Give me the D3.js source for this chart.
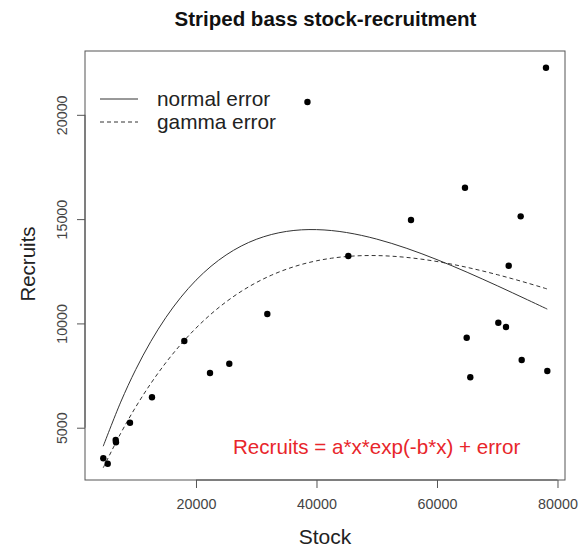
<!DOCTYPE html>
<html><head><meta charset="utf-8">
<script src="https://cdn.jsdelivr.net/npm/d3@7"></script>
<style>body{margin:0;background:#fff;} svg{display:block;}</style>
</head><body>
<svg id="c" width="579" height="548"></svg>
<script>
// Data
const stock = [4614, 5344, 6672, 6722, 9046, 12697, 18058, 22324, 25527, 31834, 38500, 45278, 55685, 64647, 64929, 65528, 70178, 71452, 73888, 74058, 71900, 78091, 78307];
const recruits = [3533, 3274, 4410, 4300, 5240, 6457, 9156, 7622, 8068, 10451, 20614, 13231, 14957, 16505, 9315, 7416, 10034, 9828, 15134, 8245, 12766, 22258, 7718];
const curveStock = [4600,7500,10000,12500,15000,17500,20000,22500,25000,27500,30000,32500,35000,37500,40000,42500,45000,47500,50000,52500,55000,57500,60000,62500,65000,67500,70000,72500,75000,77500,78300];
const normalFit = [4112,6226,7789,9134,10284,11257,12071,12741,13282,13708,14031,14261,14410,14486,14497,14452,14357,14218,14042,13834,13597,13337,13058,12762,12453,12133,11806,11472,11135,10795,10686];
const gammaFit = [3078,4730,5994,7120,8119,9001,9775,10450,11034,11534,11957,12309,12597,12826,13001,13126,13207,13248,13252,13222,13163,13077,12968,12836,12686,12519,12337,12142,11937,11721,11650];
const xTicks = [20000, 40000, 60000, 80000];
const yTicks = [5000, 10000, 15000, 20000];
const legendLabels = ["normal error", "gamma error"];
const titleText = "Striped bass stock-recruitment";
const formulaText = "Recruits = a*x*exp(-b*x) + error";

const svg = d3.select("#c");
const font = "'Liberation Sans', Arial, sans-serif";
const L = 85, R = 565, T = 51, B = 480;
const x = d3.scaleLinear().domain([1577, 81245]).range([L, R]);
const y = d3.scaleLinear().domain([2493, 23060]).range([B, T]);

// box
svg.append("rect").attr("x", L).attr("y", T).attr("width", R - L).attr("height", B - T)
  .attr("fill", "none").attr("stroke", "#555").attr("stroke-width", 1);

// axes
const xAxis = svg.append("g").attr("transform", `translate(0,${B})`)
  .call(d3.axisBottom(x).tickValues(xTicks).tickSize(8).tickPadding(11).tickFormat(d3.format("d")));
const yAxis = svg.append("g").attr("transform", `translate(${L},0)`)
  .call(d3.axisLeft(y).tickValues(yTicks).tickSize(8).tickPadding(6).tickFormat(d3.format("d")));
[xAxis, yAxis].forEach(g => {
  g.select(".domain").remove();
  g.selectAll(".tick line").attr("stroke", "#555");
  g.selectAll(".tick text").attr("fill", "#444").style("font-family", font).style("font-size", "14.3px");
});
svg.append("line").attr("x1", x(xTicks[0])).attr("x2", x(xTicks[xTicks.length-1])).attr("y1", B).attr("y2", B).attr("stroke", "#555");
svg.append("line").attr("y1", y(yTicks[0])).attr("y2", y(yTicks[yTicks.length-1])).attr("x1", L).attr("x2", L).attr("stroke", "#555");
yAxis.selectAll(".tick text")
  .attr("x", 0).attr("y", 0).attr("dy", "0.35em").attr("text-anchor", "middle")
  .attr("transform", "translate(-23,0) rotate(-90)");

// curves
const line = d3.line().x((d,i) => x(curveStock[i])).y(d => y(d)).curve(d3.curveCatmullRom);
svg.append("path").attr("d", line(normalFit)).attr("fill", "none").attr("stroke", "#333").attr("stroke-width", 1);
svg.append("path").attr("d", line(gammaFit)).attr("fill", "none").attr("stroke", "#333").attr("stroke-width", 1).attr("stroke-dasharray", "4,3");

// points
svg.selectAll("circle.pt").data(stock).enter().append("circle").attr("class", "pt")
  .attr("cx", d => x(d)).attr("cy", (d,i) => y(recruits[i])).attr("r", 3.2).attr("fill", "#000");

// legend
legendLabels.forEach((lab, i) => {
  const ly = 99 + i * 23;
  svg.append("line").attr("x1", 100).attr("x2", 138).attr("y1", ly).attr("y2", ly)
    .attr("stroke", "#333").attr("stroke-width", 1).attr("stroke-dasharray", i ? "4,3" : null);
  svg.append("text").attr("x", 157).attr("y", ly).attr("dy", "0.35em").text(lab)
    .style("font-family", font).style("font-size", "20.8px").attr("fill", "#222");
});

// formula
svg.append("text").attr("x", 233).attr("y", 447).attr("dy", "0.35em").text(formulaText)
  .style("font-family", font).style("font-size", "20.6px").attr("fill", "#e8262b");

// title & labels
svg.append("text").attr("x", 325.5).attr("y", 19).attr("dy", "0.35em").attr("text-anchor", "middle").text(titleText)
  .style("font-family", font).style("font-size", "20.5px").style("font-weight", "bold").attr("fill", "#111");
svg.append("text").attr("x", 325).attr("y", 537).attr("dy", "0.35em").attr("text-anchor", "middle").text("Stock")
  .style("font-family", font).style("font-size", "21px").attr("fill", "#222");
svg.append("text").attr("transform", "translate(28,264) rotate(-90)").attr("dy", "0.35em").attr("text-anchor", "middle").text("Recruits")
  .style("font-family", font).style("font-size", "20.5px").attr("fill", "#222");
</script>
</body></html>
